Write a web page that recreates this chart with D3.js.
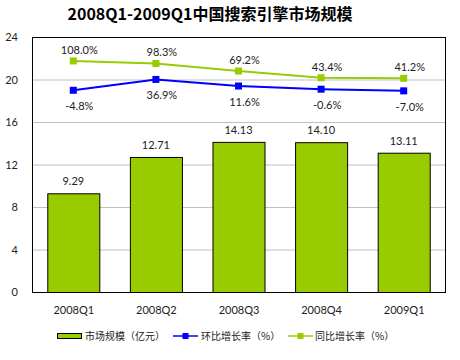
<!DOCTYPE html>
<html><head><meta charset="utf-8">
<script src="https://cdn.jsdelivr.net/npm/d3@7"></script>
<style>body{margin:0;background:#fff}svg{display:block}</style>
</head><body>
<script>
const title = "2008Q1-2009Q1中国搜索引擎市场规模";
const categories = ["2008Q1","2008Q2","2008Q3","2008Q4","2009Q1"];
const marketSize = [9.29, 12.71, 14.13, 14.10, 13.11];
const qoqGrowth = [-4.8, 36.9, 11.6, -0.6, -7.0];
const yoyGrowth = [108.0, 98.3, 69.2, 43.4, 41.2];
const yTicks = [0, 4, 8, 12, 16, 20, 24];
const legendLabels = ["市场规模（亿元）", "环比增长率（%）", "同比增长率（%）"];

const W = 460, H = 360;
const font = "'Lato','DejaVu Sans',sans-serif";
const cjk = "'Noto Sans CJK SC',sans-serif";
const barColor = "#99CC00", lineGreen = "#99CC00", lineBlue = "#0000FF";

const svg = d3.select("body").append("svg").attr("width", W).attr("height", H);
const L = 32, R = 445, T = 37, B = 292;

const x = d3.scaleBand().domain(categories).range([L, R]).paddingInner(0.37).paddingOuter(0.185);
const xc = d3.scalePoint().domain(categories).range([L, R]).padding(0.5);
const y = d3.scaleLinear().domain([0, 24]).range([B, T]);
const y2 = d3.scaleLinear().domain([-780, 200]).range([B, T]);

// title
svg.append("text").attr("x", 210).attr("y", 20).attr("text-anchor", "middle")
  .attr("font-family", "'Noto Sans CJK SC',sans-serif").attr("font-weight", "bold")
  .attr("font-size", 16).attr("fill", "#000").text(title);

// grid
svg.append("g").selectAll("line").data(yTicks.filter(d => d > 0 && d < 24)).join("line")
  .attr("x1", L).attr("x2", R).attr("y1", d => y(d) + 0.5).attr("y2", d => y(d) + 0.5)
  .attr("stroke", "#c0c0c0").attr("stroke-width", 1);

// y axis labels
const yAxis = d3.axisLeft(y).tickValues(yTicks).tickSize(0).tickPadding(0);
const ya = svg.append("g").attr("transform", `translate(${18},0)`).call(yAxis);
ya.select(".domain").remove();
ya.selectAll("text").attr("font-family", font).attr("font-size", 11).attr("fill", "#222");

// bars
svg.append("g").selectAll("rect").data(marketSize).join("rect")
  .attr("x", (d, i) => x(categories[i]) + 0.5).attr("y", d => y(d) + 0.5)
  .attr("width", x.bandwidth()).attr("height", d => B - y(d))
  .attr("fill", barColor).attr("stroke", "#000").attr("stroke-width", 1);

svg.append("g").selectAll("text").data(marketSize).join("text")
  .attr("x", (d, i) => x(categories[i]) + x.bandwidth() / 2).attr("y", d => y(d) - 8)
  .attr("text-anchor", "middle").attr("font-family", font).attr("font-size", 11).attr("fill", "#222")
  .text(d => d.toFixed(2));

// plot border
svg.append("rect").attr("x", L + 0.5).attr("y", T + 0.5).attr("width", R - L).attr("height", B - T)
  .attr("fill", "none").attr("stroke", "#000").attr("stroke-width", 1);

// x axis labels
const xAxis = d3.axisBottom(xc).tickSize(0).tickPadding(0);
const xa = svg.append("g").attr("transform", `translate(0,${B + 14})`).call(xAxis);
xa.select(".domain").remove();
xa.selectAll("text").attr("font-family", font).attr("font-size", 11).attr("fill", "#222");

// lines
function drawLine(vals, color, labelDy) {
  const line = d3.line().x((d, i) => xc(categories[i])).y(d => y2(d));
  svg.append("path").datum(vals).attr("d", line).attr("fill", "none")
    .attr("stroke", color).attr("stroke-width", 2);
  svg.append("g").selectAll("rect").data(vals).join("rect")
    .attr("x", (d, i) => xc(categories[i]) - 3.5).attr("y", d => y2(d) - 3.5)
    .attr("width", 7).attr("height", 7).attr("fill", color);
  svg.append("g").selectAll("text").data(vals).join("text")
    .attr("x", (d, i) => xc(categories[i]) + 6).attr("y", d => y2(d) + labelDy)
    .attr("text-anchor", "middle").attr("font-family", font).attr("font-size", 11).attr("fill", "#222")
    .text(d => d.toFixed(1) + "%");
}
drawLine(yoyGrowth, lineGreen, -7);
drawLine(qoqGrowth, lineBlue, 20);

// legend
const ly = 336;
const lg = svg.append("g");
lg.append("rect").attr("x", 57.5).attr("y", ly - 2.5).attr("width", 24).attr("height", 5)
  .attr("fill", barColor).attr("stroke", "#000");
lg.append("text").attr("x", 85).attr("y", ly + 3.5).attr("font-family", cjk).attr("font-size", 10)
  .attr("fill", "#222").text(legendLabels[0]);
[[173, lineBlue, 201, legendLabels[1]], [288, lineGreen, 315, legendLabels[2]]].forEach(([x0, c, tx, t]) => {
  lg.append("line").attr("x1", x0).attr("x2", x0 + 25).attr("y1", ly).attr("y2", ly)
    .attr("stroke", c).attr("stroke-width", 1.5);
  lg.append("rect").attr("x", x0 + 9.5).attr("y", ly - 3).attr("width", 6).attr("height", 6).attr("fill", c);
  lg.append("text").attr("x", tx).attr("y", ly + 3.5).attr("font-family", cjk).attr("font-size", 10)
    .attr("fill", "#222").text(t);
});
</script>
</body></html>
